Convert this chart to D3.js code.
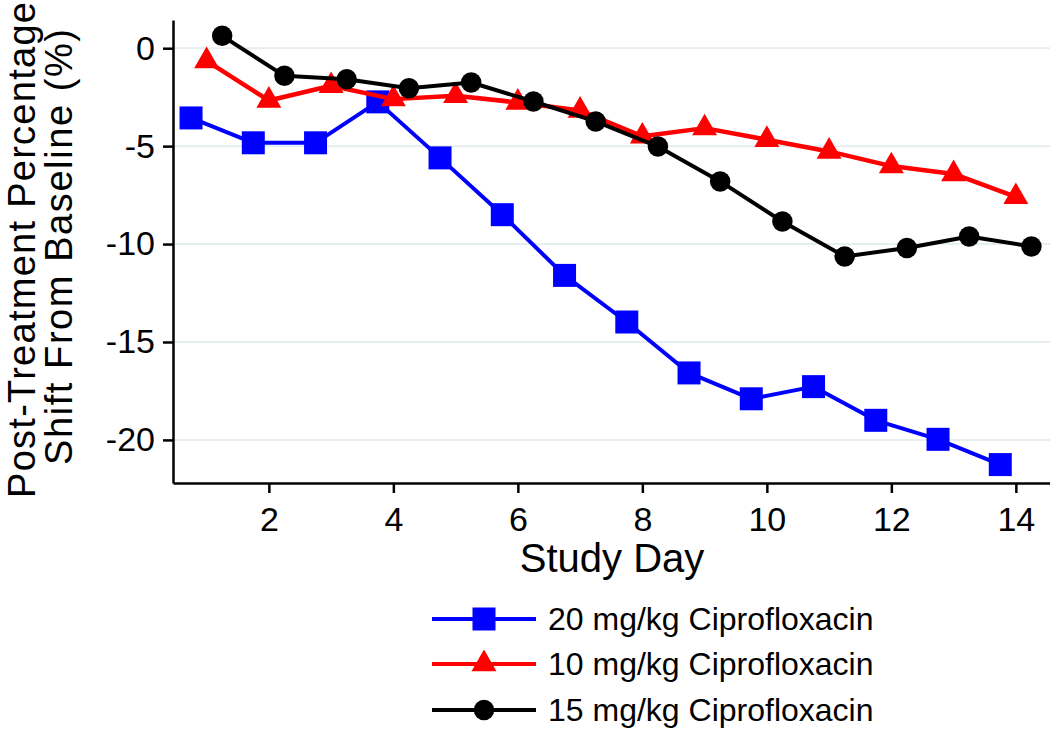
<!DOCTYPE html>
<html>
<head>
<meta charset="utf-8">
<script src="https://cdn.jsdelivr.net/npm/d3@7"></script>
<style>
  html, body { margin: 0; padding: 0; background: #fff; }
  svg { display: block; font-family: "Liberation Sans", Arial, sans-serif; }
</style>
</head>
<body>
<svg id="chart" width="1050" height="730"></svg>
<script>
// ---- data ----
const seriesNames = ["20 mg/kg Ciprofloxacin", "10 mg/kg Ciprofloxacin", "15 mg/kg Ciprofloxacin"];
const daysBlue  = [0.75, 1.75, 2.75, 3.75, 4.75, 5.75, 6.75, 7.75, 8.75, 9.75, 10.75, 11.75, 12.75, 13.75];
const valsBlue  = [-3.56, -4.83, -4.83, -2.74, -5.6, -8.5, -11.6, -13.98, -16.58, -17.9, -17.28, -19.0, -19.97, -21.26];
const daysRed   = [1, 2, 3, 4, 5, 6, 7, 8, 9, 10, 11, 12, 13, 14];
const valsRed   = [-0.65, -2.67, -1.92, -2.6, -2.43, -2.77, -3.18, -4.5, -4.08, -4.67, -5.27, -6.02, -6.42, -7.59];
const daysBlack = [1.25, 2.25, 3.25, 4.25, 5.25, 6.25, 7.25, 8.25, 9.25, 10.25, 11.25, 12.25, 13.25, 14.25];
const valsBlack = [0.63, -1.41, -1.58, -2.04, -1.75, -2.72, -3.74, -5.02, -6.8, -8.85, -10.63, -10.2, -9.61, -10.12];
const xTicks = [2, 4, 6, 8, 10, 12, 14];
const yTicks = [0, -5, -10, -15, -20];
const xTitle = "Study Day";
const yTitleLines = ["Post-Treatment Percentage", "Shift From Baseline (%)"];

// ---- build series ----
const series = [
  { name: seriesNames[0], color: "#0000ff", symbol: d3.symbolSquare, size: 529, days: daysBlue, vals: valsBlue, width: 4 },
  { name: seriesNames[1], color: "#ff0000", symbol: d3.symbolTriangle, size: 270, days: daysRed, vals: valsRed, width: 4.5 },
  { name: seriesNames[2], color: "#000000", symbol: d3.symbolCircle, size: 330, days: daysBlack, vals: valsBlack, width: 4 }
];

const svg = d3.select("#chart");
const x = d3.scaleLinear().domain([0.46, 14.56]).range([173, 1050.7]);
const y = d3.scaleLinear().domain([-22.2, 1.44]).range([483, 20]);

// gridlines
svg.append("g").selectAll("line").data(yTicks).join("line")
  .attr("x1", 174).attr("x2", 1050)
  .attr("y1", d => y(d)).attr("y2", d => y(d))
  .attr("stroke", "#e6eef1").attr("stroke-width", 2);

// axes
const yAxis = svg.append("g").attr("transform", "translate(173,0)")
  .call(d3.axisLeft(y).tickValues(yTicks).tickFormat(d => String(d)).tickSize(10).tickSizeOuter(0).tickPadding(8));
const xAxis = svg.append("g").attr("transform", "translate(0,483)")
  .call(d3.axisBottom(x).tickValues(xTicks).tickFormat(d => String(d)).tickSize(10).tickSizeOuter(0).tickPadding(14));
[yAxis, xAxis].forEach(g => {
  g.selectAll("path, line").attr("stroke", "#000").attr("stroke-width", 2.5);
  g.selectAll("text").attr("fill", "#000").attr("font-size", 34).attr("font-family", "Liberation Sans, Arial, sans-serif");
});

// axis titles
svg.append("text").attr("x", 612).attr("y", 572).attr("text-anchor", "middle")
  .attr("font-size", 40).attr("fill", "#000").text(xTitle);
const yTitlePos = [{ bx: 35, cy: 250, len: 496 }, { bx: 72, cy: 247, len: 436 }];
yTitleLines.forEach((t, i) => {
  svg.append("text").attr("transform", `translate(${yTitlePos[i].bx},${yTitlePos[i].cy}) rotate(-90)`)
    .attr("text-anchor", "middle").attr("font-size", 38).attr("fill", "#000")
    .attr("textLength", yTitlePos[i].len).attr("lengthAdjust", "spacing").text(t);
});

// series
const line = d3.line().x(d => x(d[0])).y(d => y(d[1]));
series.forEach(s => {
  const pts = s.days.map((d, i) => [d, s.vals[i]]);
  const g = svg.append("g");
  g.append("path").attr("d", line(pts)).attr("fill", "none")
    .attr("stroke", s.color).attr("stroke-width", s.width).attr("stroke-linejoin", "round");
  g.selectAll("path.m").data(pts).join("path").attr("class", "m")
    .attr("transform", d => `translate(${x(d[0])},${y(d[1])})`)
    .attr("d", d3.symbol().type(s.symbol).size(s.size)())
    .attr("fill", s.color);
});

// legend
const legRows = [619, 664, 710];
series.forEach((s, i) => {
  const g = svg.append("g").attr("transform", `translate(0,${legRows[i]})`);
  g.append("line").attr("x1", 432).attr("x2", 536).attr("y1", 0).attr("y2", 0)
    .attr("stroke", s.color).attr("stroke-width", 4);
  g.append("path").attr("transform", "translate(484,0)")
    .attr("d", d3.symbol().type(s.symbol).size(s.size)()).attr("fill", s.color);
  g.append("text").attr("x", 548).attr("y", 0).attr("dy", "0.35em")
    .attr("font-size", 32).attr("fill", "#000").text(s.name);
});
</script>
</body>
</html>
